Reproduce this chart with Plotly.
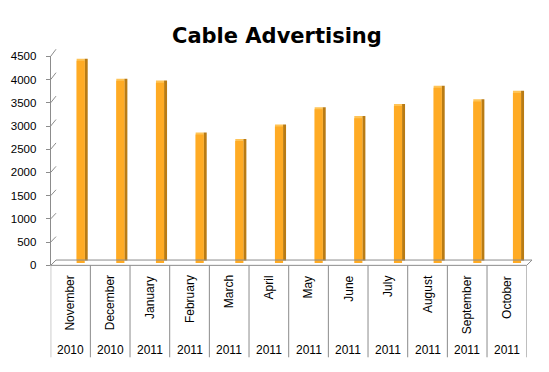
import plotly.graph_objects as go

# ---------------- data ----------------
months = ["November", "December", "January", "February", "March", "April",
          "May", "June", "July", "August", "September", "October"]
years = ["2010", "2010", "2011", "2011", "2011", "2011",
         "2011", "2011", "2011", "2011", "2011", "2011"]
values = [4330, 3900, 3860, 2750, 2610, 2920, 3290, 3100, 3360, 3750, 3460, 3640]
y_ticks = [0, 500, 1000, 1500, 2000, 2500, 3000, 3500, 4000, 4500]
y_tick_labels = [str(v) for v in y_ticks]
title_text = "Cable Advertising"

# ---------------- layout geometry (pixels) ----------------
W, H = 549, 372
YMAX = 4500
NCAT = len(months)

def px(x):
    return x / W

def py(y):
    return 1 - y / H

# front plane, back wall plane, bar front-face plane, bar top/side plane
FRONT = dict(x0=50.7, x1=526.7, y0=268.0, y1=52.0)
BACK = dict(x0=56.0, x1=532.0, y0=262.5, y1=44.7)
MID = dict(x0=53.4, x1=529.4, y0=265.5, y1=48.4)
SIDE = dict(x0=56.0, x1=532.0, y0=263.3, y1=46.2)

def xdom(p):
    return [px(p["x0"]), px(p["x1"])]

def ydom(p):
    return [py(p["y0"]), py(p["y1"])]

def yval(p, v):
    return py(p["y0"] + (p["y1"] - p["y0"]) * v / YMAX)

GRID = "#8c8c8c"
AX = "#8c8c8c"
FRONT_FILL = "#FFAB24"
SIDE_FILL = "#B97B14"
CAP_FILL = "#FFC456"
FONT = "Liberation Sans"

idx = list(range(NCAT))
centers = [i + 0.5 for i in idx]

fig = go.Figure()

# top caps (shifted plane, light)
fig.add_trace(go.Bar(
    x=idx, y=values, xaxis="x3", yaxis="y3",
    offset=0.52, width=0.205,
    marker=dict(color=CAP_FILL, line=dict(width=0)),
    hoverinfo="skip", showlegend=False,
))
# side faces (shifted plane, dark)
fig.add_trace(go.Bar(
    x=idx, y=values, xaxis="x3", yaxis="y3",
    offset=0.7245, width=0.075,
    marker=dict(color=SIDE_FILL, line=dict(width=0)),
    hoverinfo="skip", showlegend=False,
))
# front faces
fig.add_trace(go.Bar(
    x=idx, y=values, xaxis="x4", yaxis="y4",
    offset=0.585, width=0.205,
    marker=dict(color=FRONT_FILL, line=dict(width=0)),
    name=title_text, showlegend=False,
))

shapes = []
# category separators below the floor
for i in range(NCAT + 1):
    shapes.append(dict(type="line", xref="x", yref="paper",
                       x0=i, x1=i, y0=py(FRONT["y0"]), y1=py(363),
                       line=dict(color=AX, width=1)))
# floor parallelogram
shapes.append(dict(
    type="path", xref="paper", yref="paper",
    path=(f"M {px(FRONT['x0'])} {py(FRONT['y0'])} "
          f"L {px(BACK['x0'])} {py(BACK['y0'])} "
          f"L {px(BACK['x1'])} {py(BACK['y0'])} "
          f"L {px(FRONT['x1'])} {py(FRONT['y0'])} Z"),
    line=dict(color=AX, width=1), fillcolor="rgba(0,0,0,0)"))
# left wall diagonals joining front ticks to back gridlines
for v in y_ticks:
    shapes.append(dict(type="line", xref="paper", yref="paper",
                       x0=px(FRONT["x0"]), y0=yval(FRONT, v),
                       x1=px(BACK["x0"]), y1=yval(BACK, v),
                       line=dict(color=AX, width=1)))

annotations = []
# month labels (rotated) and year labels
for c, m in zip(centers, months):
    annotations.append(dict(x=c, xref="x", y=py(276.5), yref="paper",
                            text=m, textangle=-90, showarrow=False,
                            font=dict(family=FONT, size=12, color="#000000"),
                            xanchor="center", yanchor="top"))
for c, yr in zip(centers, years):
    annotations.append(dict(x=c, xref="x", y=py(355), yref="paper",
                            text=yr, showarrow=False,
                            font=dict(family=FONT, size=12, color="#000000"),
                            xanchor="center", yanchor="middle"))
# title
annotations.append(dict(x=px(277), xref="paper", y=py(30.5), yref="paper",
                        text="<b>" + title_text + "</b>", showarrow=False,
                        font=dict(family="DejaVu Sans", size=21, color="#000000"),
                        xanchor="center", yanchor="middle"))

fig.update_layout(
    width=W, height=H, autosize=False,
    margin=dict(l=0, r=0, t=0, b=0),
    paper_bgcolor="white", plot_bgcolor="rgba(0,0,0,0)",
    barmode="overlay",
    xaxis=dict(domain=xdom(FRONT), range=[0, NCAT], anchor="y",
               showticklabels=False, ticks="", showgrid=False,
               zeroline=False, showline=False),
    yaxis=dict(domain=ydom(FRONT), range=[0, YMAX], anchor="x",
               tickmode="array", tickvals=y_ticks, ticktext=y_tick_labels,
               ticks="outside", ticklen=4, tickcolor=AX,
               showline=True, linecolor=AX, linewidth=1,
               showgrid=False, zeroline=False, ticklabelstandoff=7,
               tickfont=dict(family=FONT, size=11.5, color="#000000")),
    xaxis2=dict(domain=xdom(BACK), range=[0, NCAT], anchor="y2",
                showticklabels=False, ticks="", showgrid=False,
                zeroline=False, showline=False),
    yaxis2=dict(domain=ydom(BACK), range=[0, YMAX], anchor="x2",
                tickmode="array", tickvals=y_ticks, showticklabels=False,
                ticks="", showgrid=True, gridcolor=GRID, gridwidth=1,
                zeroline=False, showline=False),
    xaxis3=dict(domain=xdom(SIDE), range=[0, NCAT], anchor="y3", visible=False),
    yaxis3=dict(domain=ydom(SIDE), range=[0, YMAX], anchor="x3", visible=False),
    xaxis4=dict(domain=xdom(MID), range=[0, NCAT], anchor="y4", visible=False),
    yaxis4=dict(domain=ydom(MID), range=[0, YMAX], anchor="x4", visible=False),
    shapes=shapes,
    annotations=annotations,
)

fig.write_html(
    "out.html",
    config={"displayModeBar": False},
    post_script="document.body.style.margin='0';document.body.style.overflow='hidden';",
)
